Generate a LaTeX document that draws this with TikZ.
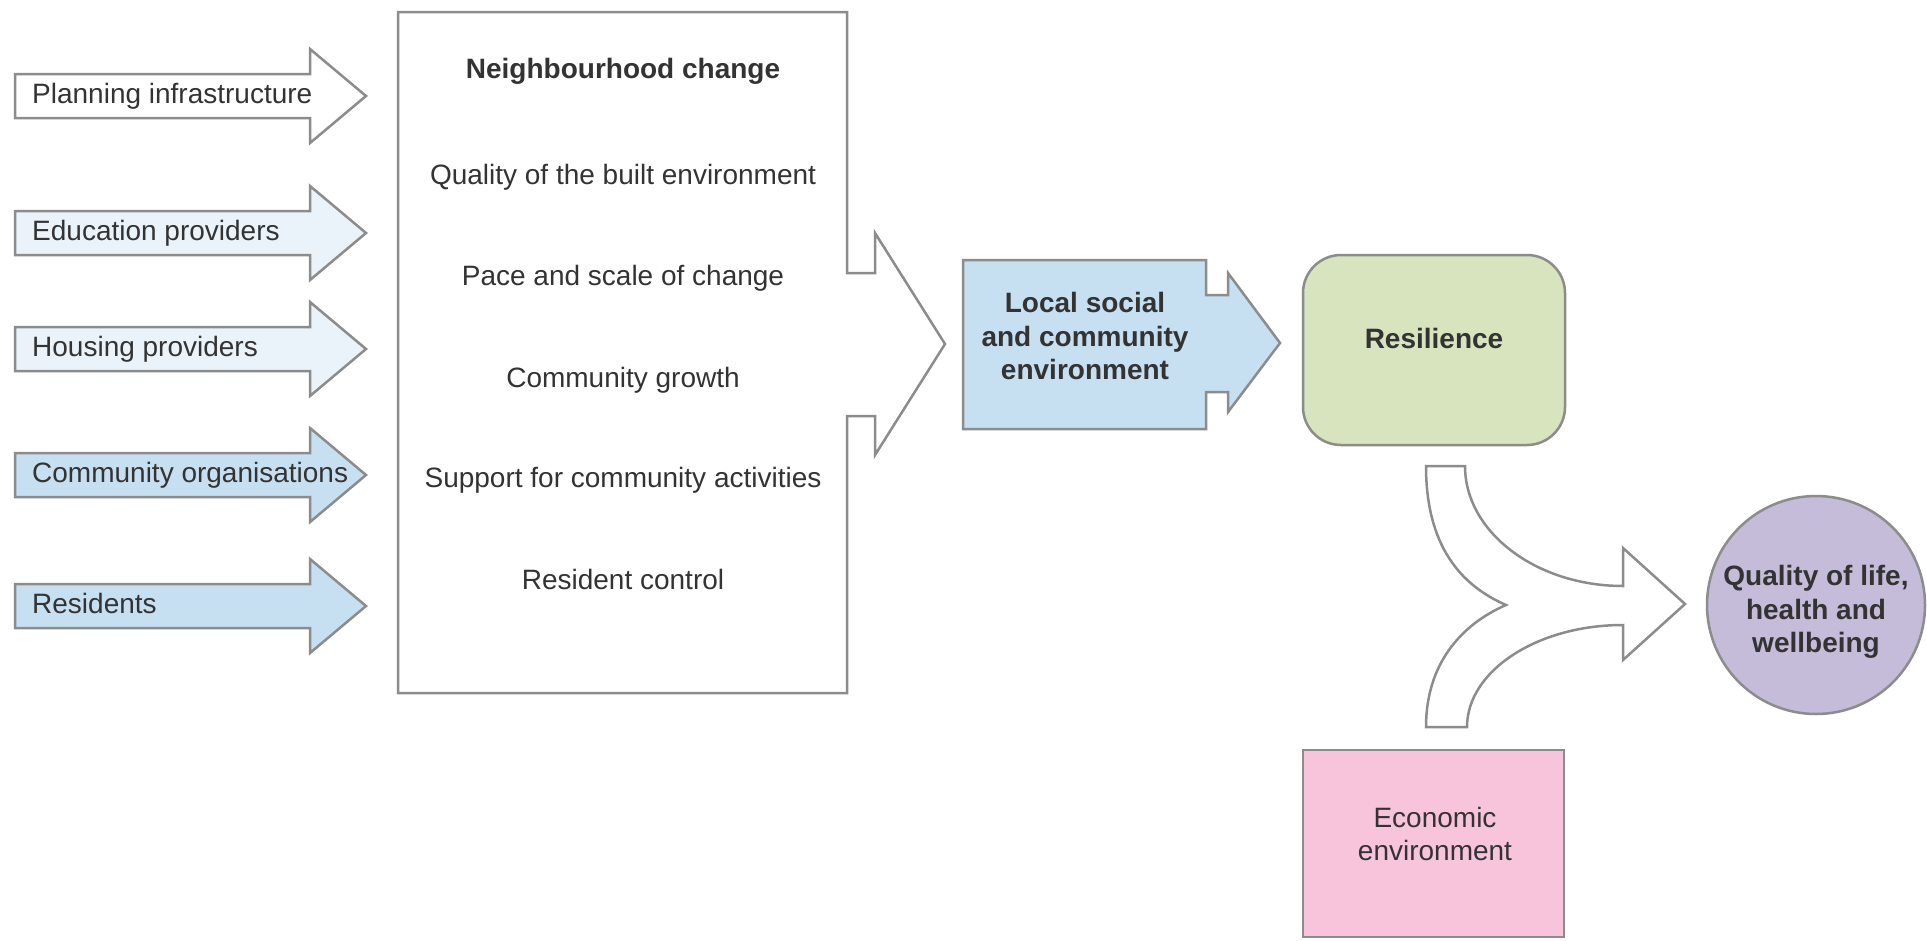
\documentclass[tikz,border=0pt]{standalone}
\usepackage{fontspec}
\setmainfont{Liberation Sans}
\usetikzlibrary{positioning}
\definecolor{rimgray}{RGB}{140,140,140}
\definecolor{ink}{RGB}{51,51,51}
\definecolor{paleblue}{RGB}{234,242,250}
\definecolor{skyblue}{RGB}{198,224,242}
\definecolor{sage}{RGB}{215,228,190}
\definecolor{rose}{RGB}{248,196,220}
\definecolor{lilac}{RGB}{196,188,216}

\begin{document}
\begin{tikzpicture}[x=1pt,y=-1pt,
  blockline/.style={draw=rimgray,line width=2.5pt,line join=miter},
  lbl/.style={text=ink,inner sep=0pt,font=\fontsize{28}{33.6}\selectfont},
  row/.style={lbl,text height=20pt,text depth=6pt},
  blbl/.style={lbl,font=\fontsize{28}{33.6}\selectfont\bfseries,align=center}]
  \fill[white] (0,0) rectangle (1927,940);
  \useasboundingbox (0,0) rectangle (1927,940);

  \filldraw[blockline,fill=white] (15,74) -- (310,74) -- (310,49) -- (366,96) -- (310,143) -- (310,118) -- (15,118) -- cycle;
  \filldraw[blockline,fill=paleblue] (15,211) -- (310,211) -- (310,186) -- (366,233) -- (310,280) -- (310,255) -- (15,255) -- cycle;
  \filldraw[blockline,fill=paleblue] (15,327) -- (310,327) -- (310,302) -- (366,349) -- (310,396) -- (310,371) -- (15,371) -- cycle;
  \filldraw[blockline,fill=skyblue] (15,453) -- (310,453) -- (310,428) -- (366,475) -- (310,522) -- (310,497) -- (15,497) -- cycle;
  \filldraw[blockline,fill=skyblue] (15,584) -- (310,584) -- (310,559) -- (366,606) -- (310,653) -- (310,628) -- (15,628) -- cycle;
  \node[row,anchor=west] (plan) at (32,96) {Planning infrastructure};
  \node[row,anchor=west] (edu) at (32,233) {Education providers};
  \node[row,anchor=west] (housing) at (32,349) {Housing providers};
  \node[row,anchor=west] (orgs) at (32,475) {Community organisations};
  \node[row,anchor=west] (residents) at (32,606) {Residents};

  \filldraw[blockline,fill=white] (398,12) -- (847,12) -- (847,273) -- (875,273) -- (875,233) -- (945,344) -- (875,455) -- (875,416) -- (847,416) -- (847,693) -- (398,693) -- cycle;
  \node[row,font=\fontsize{28}{33.6}\selectfont\bfseries] (nchange) at (623,71) {Neighbourhood change};
  \node[row] (built) at (623,177) {Quality of the built environment};
  \node[row] (pace) at (623,278) {Pace and scale of change};
  \node[row] (growth) at (623,380) {Community growth};
  \node[row] (support) at (623,480) {Support for community activities};
  \node[row] (control) at (623,582) {Resident control};

  \filldraw[blockline,fill=skyblue] (963,260) -- (1206,260) -- (1206,295) -- (1228,295) -- (1228,273) -- (1280,343) -- (1228,412) -- (1228,392) -- (1206,392) -- (1206,429) -- (963,429) -- cycle;
  \node[blbl] (local) at (1085,336) {Local social\\and community\\environment};

  \filldraw[blockline,fill=sage,rounded corners=38pt] (1303,255) rectangle (1565,445);
  \node[blbl] (resilience) at (1434,338) {Resilience};

  \filldraw[blockline,fill=white] (1426,466) -- (1465,466) .. controls (1465,532) and (1536,586) .. (1623,586) -- (1623,548) -- (1685,604) -- (1623,660) -- (1623,625) .. controls (1537,625) and (1467,671) .. (1467,727) -- (1426,727) .. controls (1426,665) and (1460,625) .. (1506,605) .. controls (1460,585) and (1426,545) .. (1426,466) -- cycle;

  \filldraw[blockline,fill=lilac] (1816,605) circle (109);
  \node[blbl] (wellbeing) at (1816,612) {Quality of life,\\health and\\wellbeing};

  \filldraw[blockline,fill=rose] (1303,750) rectangle (1564,937);
  \node[blbl,font=\fontsize{28}{33.6}\selectfont] (economic) at (1435,834) {Economic\\environment};
\end{tikzpicture}
\end{document}
